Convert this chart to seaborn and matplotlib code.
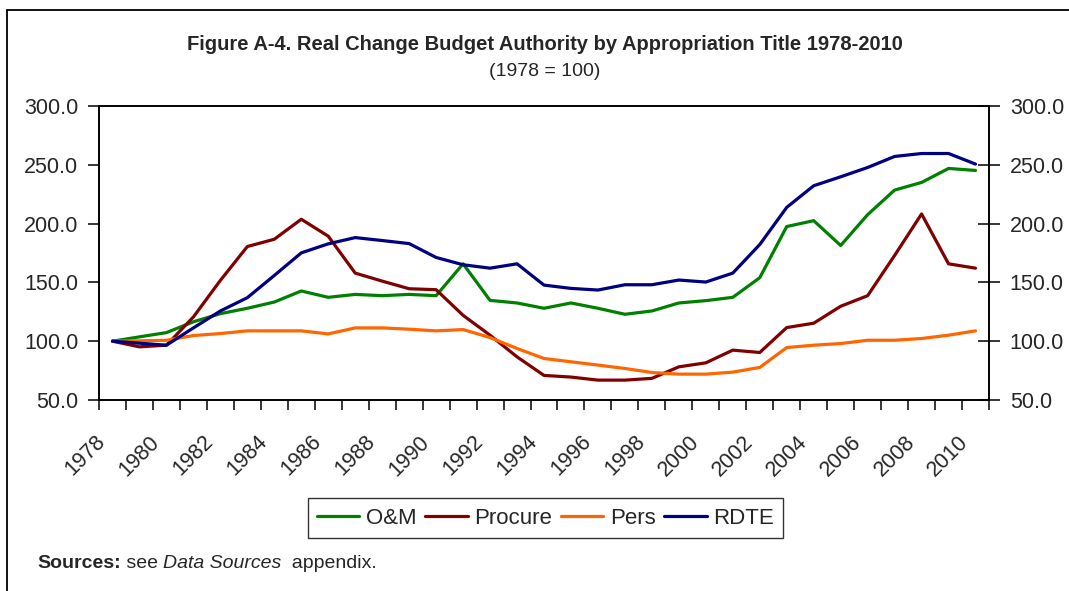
import numpy as np
import pandas as pd
import matplotlib
matplotlib.use("Agg")
import matplotlib.pyplot as plt
import matplotlib.transforms as mtransforms
import seaborn as sns
from matplotlib.lines import Line2D

years = list(range(1978, 2011))
series_names = ["O&M", "Procure", "Pers", "RDTE"]
om = [100, 103.7, 107.3, 116.5, 123.4, 128, 133.3, 142.7, 137.3, 139.8, 138.7,
      139.8, 138.7, 165.8, 134.7, 132.5, 128, 132.5, 128, 122.9, 125.7, 132.5,
      134.5, 137.3, 154, 197.5, 202.5, 181.4, 207.6, 228.5, 235, 246.9, 245.2]
procure = [100, 95.2, 96.6, 120.6, 151.7, 180.5, 186.7, 203.7, 189.3, 157.9, 151.1,
           144.6, 143.8, 122, 105.1, 86.7, 70.9, 69.5, 66.9, 66.9, 68.4, 78.2,
           81.6, 92.4, 90.4, 111.6, 115.3, 129.7, 138.7, 172.9, 208.2, 165.8, 162.1]
pers = [100, 100.3, 100.8, 104.8, 106.5, 108.8, 108.8, 108.8, 106.2, 111.3, 111.3,
        110.2, 108.8, 109.9, 103.1, 93.8, 85.3, 82.5, 79.7, 76.8, 73.4, 72,
        72, 73.7, 77.7, 94.6, 96.6, 98, 100.8, 100.8, 102.3, 105.1, 108.8]
rdte = [100, 98.3, 96.6, 111.3, 125.7, 137, 155.9, 175.1, 182.8, 188.1, 185.6,
        183, 171.2, 165, 162.1, 165.8, 147.7, 144.9, 143.5, 148, 148, 152,
        150.3, 157.9, 182.2, 213.8, 232.2, 239.8, 247.7, 257.1, 259.6, 259.6, 250.6]
y_ticks = [50, 100, 150, 200, 250, 300]
title = "Figure A-4. Real Change Budget Authority by Appropriation Title 1978-2010"
subtitle = "(1978 = 100)"
colors = ["#008000", "#800000", "#FF6600", "#000080"]

sns.set_theme(style="white")
plt.rcParams['font.family'] = ['Liberation Sans', 'DejaVu Sans']

rows = []
for name, vals in zip(series_names, [om, procure, pers, rdte]):
    for i, v in enumerate(vals):
        rows.append({"idx": i, "Year": years[i], "value": v, "series": name})
df = pd.DataFrame(rows)

W, H = 1069, 591
fig = plt.figure(figsize=(W / 100, H / 100), dpi=100)
fig.patch.set_facecolor("white")
ax = fig.add_axes([99 / W, 1 - 400 / H, (989 - 99) / W, (400 - 106) / H])

sns.lineplot(data=df, x="idx", y="value", hue="series", hue_order=series_names,
             palette=colors, linewidth=2.3, ax=ax, legend=False)

ax.set_xlim(-0.5, len(years) - 0.5)
ax.set_ylim(50, 300)
ax.set_xlabel("")
ax.set_ylabel("")
for s in ax.spines.values():
    s.set_color("black")
    s.set_linewidth(1.2)

major = list(range(0, len(years), 2))
ax.set_xticks(major)
ax.set_xticklabels([str(years[i]) for i in major], rotation=45, ha="right",
                   va="center", rotation_mode="anchor", fontsize=15.5)
ax.set_xticks(np.arange(-0.5, len(years), 1), minor=True)
ax.tick_params(axis="x", which="major", length=0, pad=28)
ax.tick_params(axis="x", which="minor", length=7, width=1.1, direction="out",
               color="black", bottom=True)
offset = mtransforms.ScaledTranslation(-10 / 100, 0, fig.dpi_scale_trans)
for lbl in ax.get_xticklabels():
    lbl.set_transform(lbl.get_transform() + offset)

ax.set_yticks(y_ticks)
ax.set_yticklabels([f"{v:.1f}" for v in y_ticks], fontsize=15.5)
ax.tick_params(axis="y", length=8, width=1.1, direction="out", color="black",
               left=True, pad=7)

ax2 = ax.twinx()
ax2.set_ylim(50, 300)
ax2.set_yticks(y_ticks)
ax2.set_yticklabels([f"{v:.1f}" for v in y_ticks], fontsize=15.5)
ax2.tick_params(axis="y", length=16, width=1.1, direction="inout", color="black",
                right=True, pad=7)
for s in ax2.spines.values():
    s.set_color("black")
    s.set_linewidth(1.2)

handles = [Line2D([0], [0], color=c, lw=2.3) for c in colors]
leg = fig.legend(handles, series_names, loc="center",
                 bbox_to_anchor=(545.5 / W, 1 - 518 / H), ncol=4, fontsize=16,
                 frameon=True, fancybox=False, edgecolor="black",
                 handlelength=1.9, handletextpad=0.3, columnspacing=0.4,
                 borderpad=0.42, borderaxespad=0)
leg.get_frame().set_linewidth(1.0)

fig.text(545 / W, 1 - 44 / H, title, ha="center", va="center",
         fontsize=14.5, fontweight="bold")
fig.text(545 / W, 1 - 72 / H, subtitle, ha="center", va="center", fontsize=14)

# Sources line built from pieces
fig.canvas.draw()
renderer = fig.canvas.get_renderer()
x0 = 37 / W
yy = 1 - 563 / H
pieces = [("Sources:", "bold", "normal"), (" see ", "normal", "normal"),
          ("Data Sources", "normal", "italic"), ("  appendix.", "normal", "normal")]
for txt, wt, st in pieces:
    t = fig.text(x0, yy, txt, ha="left", va="center", fontsize=14,
                 fontweight=wt, fontstyle=st)
    bb = t.get_window_extent(renderer=renderer)
    x0 += bb.width / W

# outer border (chart area frame, clipped on right/bottom)
fig.add_artist(Line2D([7 / W, 7 / W], [0, 1 - 10 / H], color="black", lw=1.3,
                      transform=fig.transFigure))
fig.add_artist(Line2D([7 / W, 1.0], [1 - 10 / H, 1 - 10 / H], color="black", lw=1.3,
                      transform=fig.transFigure))

fig.savefig("out.png", dpi=100, facecolor="white")
